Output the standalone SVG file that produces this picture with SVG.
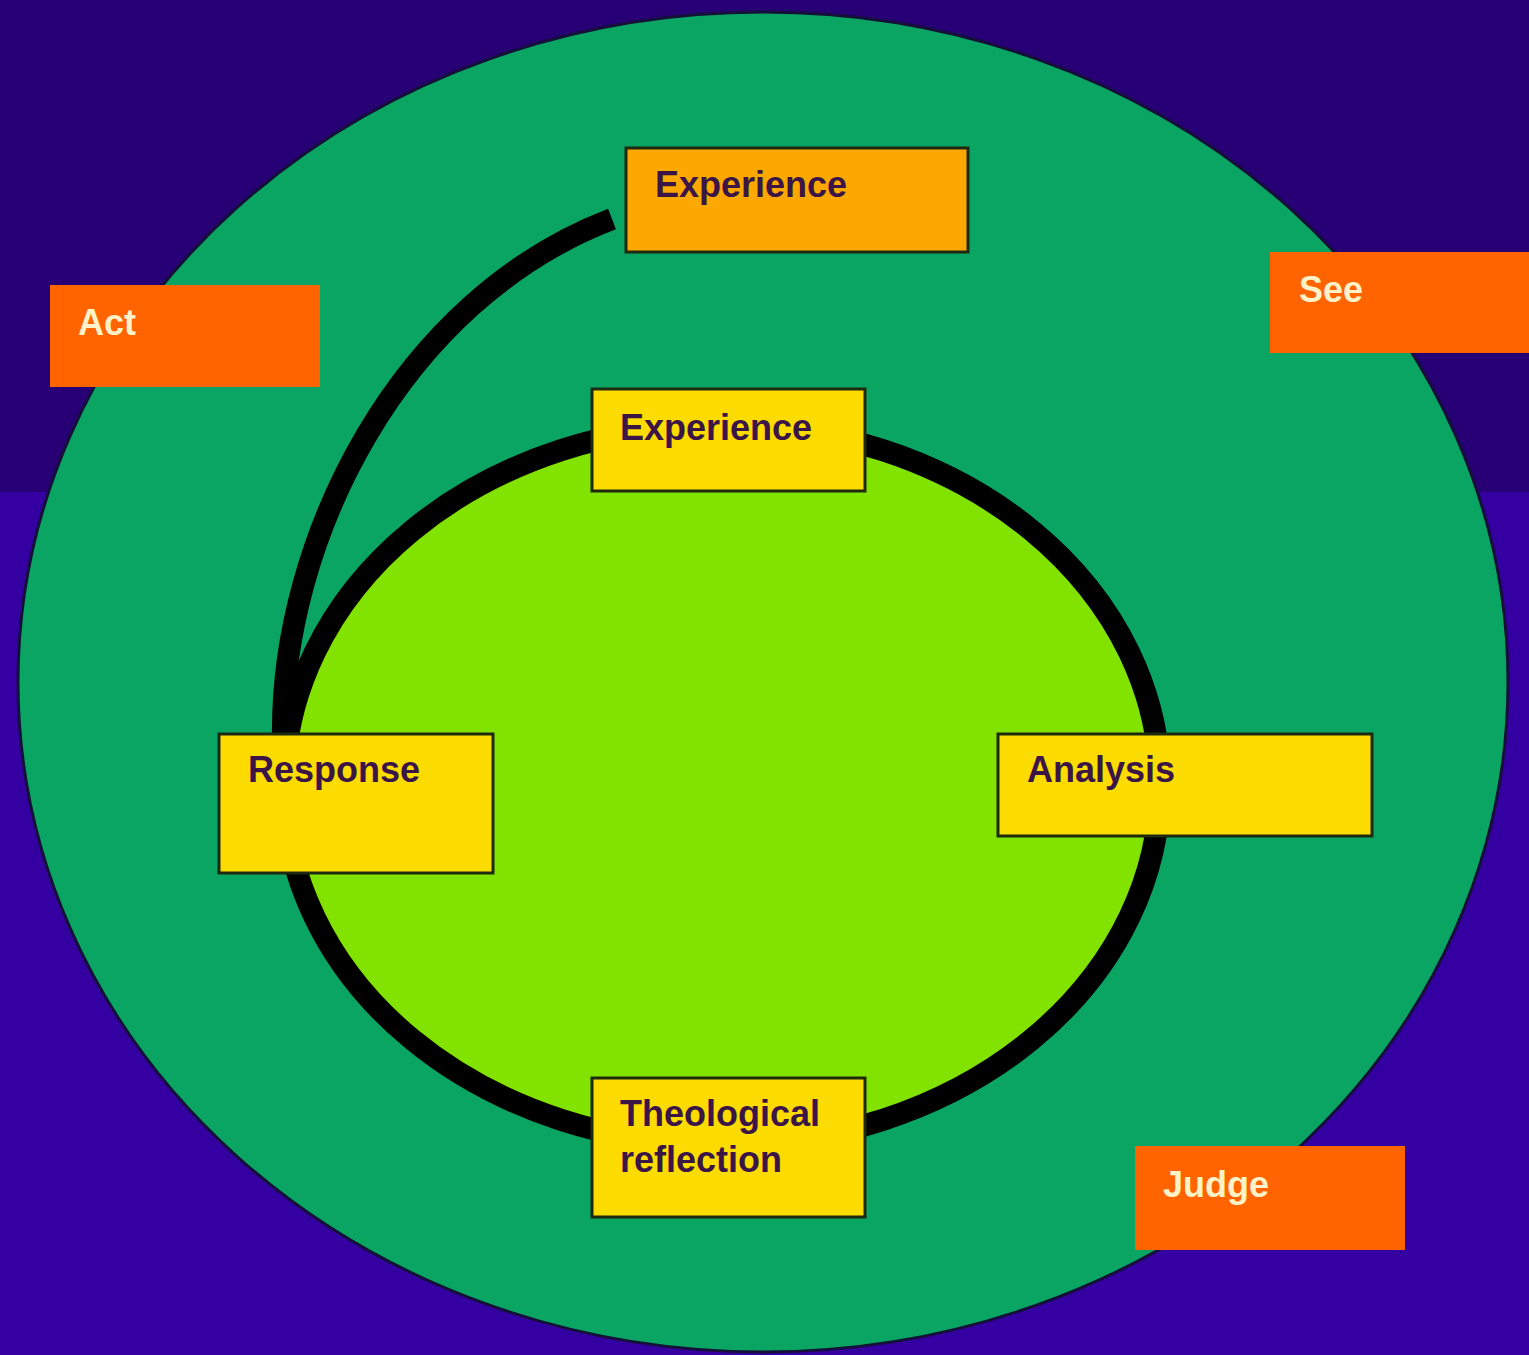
<svg xmlns="http://www.w3.org/2000/svg" width="1529" height="1355" viewBox="0 0 1529 1355">
  <style>
    .lbl { font-family: "Liberation Sans", Arial, sans-serif; font-weight: bold; font-size: 36px; fill: #fff2c8; }
    .txt { font-family: "Liberation Sans", Arial, sans-serif; font-weight: bold; font-size: 36px; fill: #3a1545; }
    .stage { fill: #ff6400; }
    .step { fill: #fcdc00; stroke: #1e2a10; stroke-width: 3; }
    .step0 { fill: #fda800; stroke: #1e2a10; stroke-width: 3; }
    .ring { fill: none; stroke: #000; stroke-width: 22; }
  </style>
  <rect x="0" y="0" width="1529" height="1355" fill="#3500a2"/>
  <rect x="0" y="0" width="1529" height="492" fill="#260074"/>
  <g id="outer-circle">
    <ellipse cx="763" cy="682" rx="745" ry="670" fill="#0aa562" stroke="#14103a" stroke-width="3"/>
  </g>
  <g id="inner-circle">
    <ellipse cx="722" cy="785" rx="438" ry="360" fill="#82e200"/>
  </g>
  <g id="connectors">
    <ellipse class="ring" cx="722" cy="785" rx="438" ry="360"/>
    <path class="ring" d="M 283 738 C 280 540, 400 300, 612 219"/>
  </g>
  <g id="act">
    <rect class="stage" x="50" y="285" width="270" height="102"/>
    <text class="lbl" x="78" y="335">Act</text>
  </g>
  <g id="see">
    <rect class="stage" x="1270" y="252" width="270" height="101"/>
    <text class="lbl" x="1299" y="302">See</text>
  </g>
  <g id="judge">
    <rect class="stage" x="1135" y="1146" width="270" height="104"/>
    <text class="lbl" x="1163" y="1197">Judge</text>
  </g>
  <g id="experience-top">
    <rect class="step0" x="626" y="148" width="342" height="104"/>
    <text class="txt" x="655" y="197">Experience</text>
  </g>
  <g id="experience">
    <rect class="step" x="592" y="389" width="273" height="102"/>
    <text class="txt" x="620" y="440">Experience</text>
  </g>
  <g id="response">
    <rect class="step" x="219" y="734" width="274" height="139"/>
    <text class="txt" x="248" y="782">Response</text>
  </g>
  <g id="analysis">
    <rect class="step" x="998" y="734" width="374" height="102"/>
    <text class="txt" x="1027" y="782">Analysis</text>
  </g>
  <g id="theological-reflection">
    <rect class="step" x="592" y="1078" width="273" height="139"/>
    <text class="txt" x="620" y="1126">Theological</text>
    <text class="txt" x="620" y="1172">reflection</text>
  </g>
</svg>
